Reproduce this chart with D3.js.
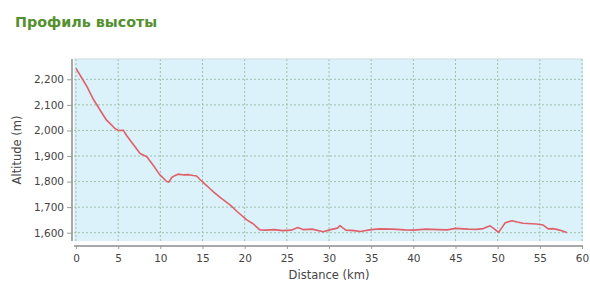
<!DOCTYPE html>
<html><head><meta charset="utf-8">
<script src="https://cdn.jsdelivr.net/npm/d3@7"></script>
<style>body{margin:0;background:#fff;}svg{display:block;}</style>
</head><body>
<svg id="c" width="590" height="284"></svg>
<script>
const title = "Профиль высоты";
const xLabel = "Distance (km)";
const yLabel = "Altitude (m)";
const xTicks = [0,5,10,15,20,25,30,35,40,45,50,55,60];
const yTicks = [1600,1700,1800,1900,2000,2100,2200];
const distKm = [0,0.6,1.3,2.0,2.85,3.6,4.2,4.6,5.0,5.6,6.0,6.8,7.6,8.4,9.2,9.9,10.4,10.75,11.0,11.35,11.7,12.1,12.8,13.4,13.9,14.3,14.7,15.3,15.9,16.3,17.2,18.3,19.2,20.25,21.0,21.6,21.8,22.5,23.5,24.5,25.5,26.3,27.0,28.0,29.3,30.2,31.0,31.3,31.6,32.0,33.0,33.7,35.0,36.0,37.5,39.0,40.0,41.5,43.0,44.0,45.0,46.5,47.5,48.3,49.1,49.6,50.1,50.5,50.9,51.7,52.3,53.0,54.0,54.6,55.4,56.0,56.5,57.0,57.6,58.2];
const altM =   [2243,2210,2171,2125,2080,2041,2022,2008,2000,2001,1980,1945,1910,1897,1862,1828,1812,1800,1798,1816,1823,1829,1826,1827,1824,1822,1808,1790,1772,1760,1735,1708,1680,1650,1635,1617,1611,1610,1612,1608,1610,1620,1612,1614,1604,1612,1618,1628,1620,1610,1608,1605,1612,1615,1614,1611,1610,1614,1612,1611,1617,1614,1613,1616,1627,1615,1601,1620,1639,1647,1642,1637,1635,1634,1630,1615,1616,1613,1608,1601];

const svg = d3.select("#c");
const x = d3.scaleLinear().domain([0,60]).range([76,582]);
const y = d3.scaleLinear().domain([1600,2200]).range([232.7,79.3]);
const pL = 74, pR = 583, pT = 59, pB = 241;

svg.append("text").attr("x",15).attr("y",27).text(title)
  .attr("font-family","DejaVu Sans").attr("font-weight","bold").attr("font-size",14.3)
  .attr("fill","#55902e");

svg.append("rect").attr("x",pL).attr("y",pT).attr("width",pR-pL).attr("height",pB-pT)
  .attr("fill","#dcf2fa");

const g = svg.append("g");
g.selectAll(".vg").data(xTicks).join("line")
  .attr("x1",d=>x(d)).attr("x2",d=>x(d)).attr("y1",pT).attr("y2",pB)
  .attr("stroke","#9cc0a8").attr("stroke-width",1).attr("stroke-dasharray","2,2");
g.selectAll(".hg").data(yTicks).join("line")
  .attr("y1",d=>y(d)).attr("y2",d=>y(d)).attr("x1",pL).attr("x2",pR)
  .attr("stroke","#9cc0a8").attr("stroke-width",1).attr("stroke-dasharray","2,2");

svg.append("line").attr("x1",pL).attr("x2",pR).attr("y1",pT).attr("y2",pT).attr("stroke","#d0d8dc");

const line = d3.line().x((d,i)=>x(distKm[i])).y(d=>y(d)).curve(d3.curveLinear);
svg.append("path").attr("d",line(altM)).attr("fill","none")
  .attr("stroke","#e0606a").attr("stroke-width",1.6).attr("stroke-linejoin","round");

// axes
const xa = svg.append("g").attr("transform",`translate(0,${pB+5})`)
  .call(d3.axisBottom(x).tickValues(xTicks).tickSize(3).tickPadding(6).tickFormat(d3.format("d")));
xa.select(".domain").attr("d",`M${pL},0H${pR}`).attr("stroke","#a8a8a8").attr("stroke-width",2);
const ya = svg.append("g").attr("transform",`translate(${pL-2},0)`)
  .call(d3.axisLeft(y).tickValues(yTicks).tickSize(5).tickPadding(3).tickFormat(d3.format(",")));
ya.select(".domain").attr("d",`M0,${pT}V${pB}`).attr("stroke","#a8a8a8").attr("stroke-width",2);
[xa,ya].forEach(a=>{
  a.selectAll(".tick line").attr("stroke","#9a9a9a");
  a.selectAll("text").attr("font-family","DejaVu Sans").attr("font-size",10.5).attr("fill","#444");
});

svg.append("text").attr("x",329).attr("y",279).attr("text-anchor","middle").text(xLabel)
  .attr("font-family","DejaVu Sans").attr("font-size",11.5).attr("fill","#444");
svg.append("text").attr("transform","translate(21,150) rotate(-90)").attr("text-anchor","middle").text(yLabel)
  .attr("font-family","DejaVu Sans").attr("font-size",11.5).attr("fill","#444");
</script>
</body></html>
